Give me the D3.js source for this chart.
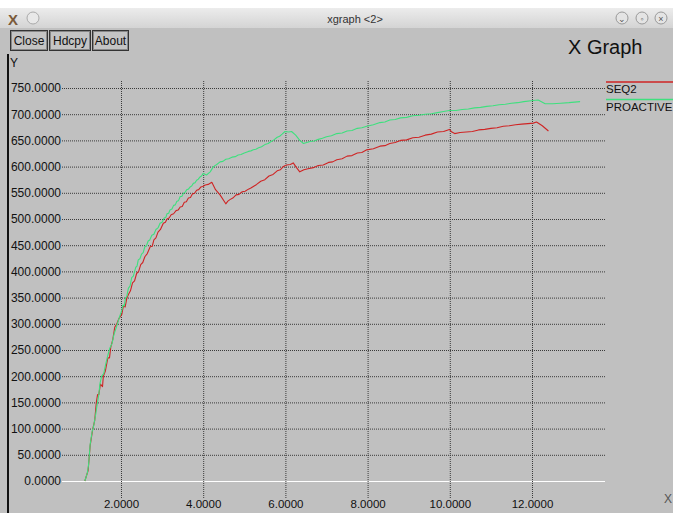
<!DOCTYPE html>
<html><head><meta charset="utf-8">
<script src="https://cdn.jsdelivr.net/npm/d3@7"></script>
<style>html,body{margin:0;padding:0;background:#c0c0c0;overflow:hidden}svg{display:block}</style>
</head><body>
<script>
const seriesNames = ["SEQ2", "PROACTIVE"];
const seriesColors = ["#cf2424", "#3ee07e"];
const xTicks = [2, 4, 6, 8, 10, 12];
const yTicks = [0, 50, 100, 150, 200, 250, 300, 350, 400, 450, 500, 550, 600, 650, 700, 750];
const seq2 = [
[1.12,0],[1.20,20],[1.25,68],[1.31,98],[1.36,115],[1.40,150],[1.43,165],[1.46,165],[1.50,185],[1.55,180],
[1.57,200],[1.62,210],[1.68,235],[1.72,235],[1.75,255],[1.80,270],[1.85,294],[1.90,300],[1.95,310],[2.02,318],
[2.06,335],[2.10,332],[2.14,348],[2.18,356],[2.23,363],[2.28,378],[2.33,382],[2.38,396],[2.43,400],[2.48,413],
[2.53,417],[2.58,428],[2.64,434],[2.71,447],[2.76,448],[2.80,460],[2.85,464],[2.90,475],[2.96,480],[3.03,492],
[3.08,494],[3.12,500],[3.17,502],[3.22,508],[3.28,510],[3.34,516],[3.39,517],[3.44,523],[3.49,524],[3.54,532],
[3.59,533],[3.64,540],[3.69,541],[3.74,548],[3.79,549],[3.84,555],[3.89,556],[3.94,561],[3.99,562],[4.05,565],
[4.12,566],[4.21,570],[4.30,556],[4.41,546],[4.55,529],[4.60,534],[4.65,537],[4.72,540],[4.80,546],[4.87,547],
[4.95,552],[5.02,553],[5.10,557],[5.16,559],[5.22,562],[5.30,566],[5.40,572],[5.50,575],[5.60,582],[5.70,585],
[5.80,592],[5.88,594],[5.95,600],[6.03,603],[6.12,604],[6.19,607],[6.27,598],[6.35,590],[6.45,594],[6.55,596],
[6.68,598],[6.80,602],[6.92,603],[7.05,608],[7.15,609],[7.25,613],[7.38,615],[7.50,620],[7.62,621],[7.75,626],
[7.86,627],[7.98,632],[8.14,634],[8.30,639],[8.42,640],[8.54,644],[8.67,646],[8.80,650],[8.95,651],[9.10,655],
[9.25,656],[9.40,660],[9.55,662],[9.70,666],[9.85,667],[9.99,671],[10.05,666],[10.12,663],[10.25,665],[10.40,666],
[10.55,667],[10.70,670],[10.85,671],[11.00,673],[11.15,674],[11.30,677],[11.45,678],[11.60,680],[11.75,681],[11.90,682],
[12.03,683],[12.11,685],[12.25,678],[12.40,668]
];
const proactive = [
[1.12,0],[1.18,15],[1.21,30],[1.25,70],[1.30,95],[1.33,103],[1.38,125],[1.41,141],[1.46,165],[1.49,187],
[1.53,200],[1.58,205],[1.62,220],[1.68,240],[1.73,254],[1.78,262],[1.83,280],[1.89,294],[1.95,310],[2.02,326],
[2.05,336],[2.08,334],[2.11,350],[2.14,352],[2.18,368],[2.22,372],[2.26,388],[2.30,391],[2.36,408],[2.39,410],
[2.42,422],[2.46,424],[2.50,433],[2.54,436],[2.58,447],[2.62,449],[2.66,458],[2.70,460],[2.75,469],[2.80,471],
[2.85,480],[2.90,483],[2.95,492],[3.00,494],[3.05,502],[3.09,503],[3.12,510],[3.16,511],[3.19,517],[3.24,519],
[3.28,526],[3.32,527],[3.36,534],[3.40,535],[3.44,543],[3.48,543],[3.52,549],[3.56,551],[3.60,556],[3.64,557],
[3.68,561],[3.72,563],[3.76,568],[3.80,569],[3.84,574],[3.88,576],[3.92,580],[3.96,582],[4.00,587],[4.08,584],
[4.17,590],[4.25,600],[4.33,604],[4.41,609],[4.48,610],[4.55,614],[4.62,615],[4.70,618],[4.78,619],[4.85,622],
[4.92,623],[5.00,626],[5.10,629],[5.16,630],[5.22,632],[5.28,633],[5.35,636],[5.42,638],[5.50,642],[5.58,644],
[5.65,648],[5.72,651],[5.80,656],[5.86,658],[5.92,662],[5.99,667],[6.08,666],[6.15,667],[6.25,660],[6.35,650],
[6.44,644],[6.52,646],[6.60,648],[6.70,649],[6.80,652],[6.90,654],[7.00,657],[7.12,659],[7.25,663],[7.38,664],
[7.50,668],[7.62,669],[7.75,673],[7.86,674],[7.98,677],[8.14,680],[8.30,684],[8.42,685],[8.54,689],[8.67,690],
[8.80,693],[8.95,694],[9.10,697],[9.25,698],[9.40,700],[9.55,701],[9.70,703],[9.85,705],[9.99,707],[10.15,707],
[10.30,709],[10.45,710],[10.60,712],[10.75,713],[10.90,715],[11.05,716],[11.20,718],[11.35,719],[11.50,721],[11.65,722],
[11.80,724],[12.03,726],[12.15,727],[12.32,720],[12.50,720],[12.70,721],[12.90,722],[13.17,724]
];
const seriesData = [seq2, proactive];

const W = 673, H = 513;
const svg = d3.select("body").append("svg").attr("width", W).attr("height", H)
  .style("font-family", "'Liberation Sans', Arial, sans-serif");

svg.append("rect").attr("width", W).attr("height", H).attr("fill", "#c0c0c0");
const grad = svg.append("defs").append("linearGradient").attr("id","tb").attr("x1",0).attr("x2",0).attr("y1",0).attr("y2",1);
grad.append("stop").attr("offset","0").attr("stop-color","#ececec");
grad.append("stop").attr("offset","1").attr("stop-color","#d4d4d4");
svg.append("rect").attr("width", W).attr("height", 8).attr("fill", "#ffffff");
svg.append("rect").attr("y", 8).attr("width", W).attr("height", 20).attr("fill", "url(#tb)");
svg.append("text").attr("x", 355).attr("y", 23).attr("text-anchor","middle").attr("font-size", 11).attr("fill","#333").text("xgraph <2>");
svg.append("text").attr("x", 8).attr("y", 25).attr("font-size", 15).attr("font-weight","bold").attr("fill","#7a5a3a").text("X");
svg.append("circle").attr("cx", 33).attr("cy", 18).attr("r", 6).attr("fill","#e8e8e8").attr("stroke","#aaa");
[[622,"⌄"],[642,"◦"],[661,"×"]].forEach(([cx,s]) => {
  svg.append("circle").attr("cx", cx).attr("cy", 18).attr("r", 6).attr("fill","#e4e4e4").attr("stroke","#999");
  svg.append("text").attr("x", cx).attr("y", 21.5).attr("text-anchor","middle").attr("font-size", 9).attr("fill","#555").text(s);
});
svg.append("rect").attr("x", 7).attr("y", 54).attr("width", 2).attr("height", H-54).attr("fill", "#111");

[["Close",10,37],["Hdcpy",49,41],["About",92,36]].forEach(([t,x,w]) => {
  svg.append("rect").attr("x", x+0.5).attr("y", 30.5).attr("width", w).attr("height", 20).attr("fill","#c4c4c4").attr("stroke","#333");
  svg.append("rect").attr("x", x+1.5).attr("y", 31.5).attr("width", w-2).attr("height", 18).attr("fill","none").attr("stroke","#888");
  svg.append("text").attr("x", x+w/2+0.5).attr("y", 45).attr("text-anchor","middle").attr("font-size", 12).attr("fill","#111").text(t);
});
svg.append("text").attr("x", 568).attr("y", 54).attr("font-size", 20).attr("fill","#111").text("X Graph");
svg.append("text").attr("x", 10).attr("y", 67).attr("font-size", 12).attr("fill","#111").text("Y");
svg.append("text").attr("x", 664).attr("y", 503).attr("font-size", 12).attr("fill","#555").text("X");

const x = d3.scaleLinear().domain([2, 12]).range([121, 532]);
const y = d3.scaleLinear().domain([0, 750]).range([481, 88]);
const gx0 = 62, gx1 = 605, gy0 = 81, gy1 = 498;

const g = svg.append("g");
const yAxis = d3.axisLeft(y).tickValues(yTicks).tickFormat(d3.format(".4f")).tickSize(-(gx1-gx0)).tickPadding(1);
const ya = g.append("g").attr("transform", `translate(${gx0},0)`).call(yAxis);
ya.select(".domain").remove();
ya.selectAll(".tick line").attr("stroke", d => d === 0 ? "#ffffff" : "#3a3a3a")
  .attr("stroke-dasharray", d => d === 0 ? null : "1,1");
ya.selectAll(".tick text").attr("font-size", 12).attr("fill", "#111").attr("font-family","'Liberation Sans', Arial, sans-serif");

const xAxis = d3.axisBottom(x).tickValues(xTicks).tickFormat(d3.format(".4f")).tickSize(-(gy1-gy0)).tickPadding(2);
const xa = g.append("g").attr("transform", `translate(0,${gy1})`).call(xAxis);
xa.select(".domain").remove();
xa.selectAll(".tick line").attr("stroke", "#3a3a3a").attr("stroke-dasharray", "1,1");
xa.selectAll(".tick text").attr("font-size", 11.5).attr("fill", "#111").attr("font-family","'Liberation Sans', Arial, sans-serif");

const line = d3.line().x(d => x(d[0])).y(d => y(d[1]));
seriesData.forEach((data, i) => {
  g.append("path").datum(data).attr("d", line).attr("fill","none")
    .attr("stroke", seriesColors[i]).attr("stroke-width", 1.1).attr("stroke-linejoin","round");
});

seriesNames.forEach((name, i) => {
  const ly = 82 + i * 17.5;
  svg.append("line").attr("x1", 606).attr("x2", W).attr("y1", ly).attr("y2", ly).attr("stroke", seriesColors[i]).attr("stroke-width", 1.5);
  svg.append("text").attr("x", 606).attr("y", ly + 11).attr("font-size", 11.5).attr("fill", "#111").text(name);
});
</script>
</body></html>
